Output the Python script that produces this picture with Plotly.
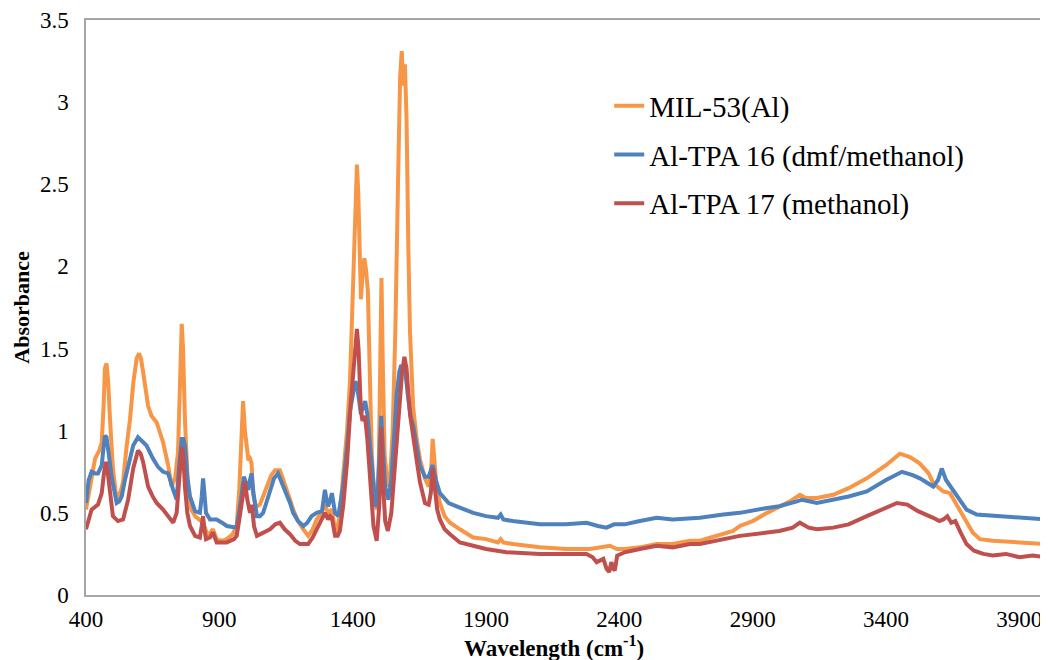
import plotly.graph_objects as go

mil53_x = [400,410,421,434,450,459,466,471,477,483,490,501,512,520,530,539,552,565,578,590,599,606,614,624,633,646,665,689,708,721,734,745,752,759,764,771,783,795,809,825,839,848,857,876,890,910,928,950,965,975,981,989,996,1003,1009,1015,1021,1026,1035,1041,1052,1064,1080,1095,1109,1127,1140,1154,1165,1177,1195,1215,1233,1250,1265,1282,1296,1308,1322,1332,1341,1352,1364,1379,1390,1401,1410,1416,1421,1426,1431,1437,1444,1450,1457,1465,1472,1482,1490,1498,1503,1508,1513,1520,1532,1540,1550,1560,1570,1578,1584,1590,1596,1602,1609,1615,1627,1640,1652,1671,1685,1694,1700,1706,1715,1727,1745,1765,1790,1802,1852,1900,1945,1955,1965,2000,2102,2200,2290,2340,2365,2390,2420,2477,2540,2600,2665,2702,2790,2827,2852,2900,2954,3000,3040,3077,3100,3141,3202,3260,3328,3400,3452,3490,3527,3560,3577,3600,3615,3640,3665,3690,3703,3725,3752,3800,3900,4000]
mil53_y = [0.52,0.62,0.72,0.83,0.88,0.93,1.15,1.38,1.41,1.30,1.07,0.77,0.62,0.60,0.63,0.69,0.90,1.07,1.30,1.44,1.47,1.44,1.36,1.24,1.15,1.09,1.05,0.93,0.79,0.66,0.71,0.87,1.35,1.65,1.50,1.07,0.63,0.52,0.48,0.46,0.44,0.40,0.36,0.40,0.34,0.33,0.34,0.37,0.42,0.65,0.87,1.18,1.00,0.87,0.82,0.83,0.80,0.62,0.55,0.54,0.55,0.60,0.66,0.73,0.76,0.76,0.70,0.64,0.58,0.52,0.45,0.40,0.36,0.40,0.46,0.50,0.55,0.50,0.52,0.42,0.38,0.50,0.70,1.00,1.30,1.90,2.40,2.62,2.45,2.00,1.80,1.95,2.05,1.98,1.85,1.30,0.85,0.58,0.52,0.80,1.40,1.93,1.40,0.85,0.66,0.70,1.00,1.60,2.50,3.15,3.31,3.10,3.23,2.90,2.10,1.60,1.14,0.95,0.83,0.71,0.66,0.75,0.95,0.85,0.65,0.56,0.48,0.44,0.41,0.40,0.35,0.34,0.32,0.34,0.32,0.31,0.29,0.28,0.28,0.29,0.30,0.28,0.28,0.29,0.31,0.31,0.33,0.33,0.37,0.39,0.42,0.45,0.50,0.54,0.57,0.61,0.59,0.59,0.61,0.65,0.71,0.79,0.86,0.84,0.80,0.74,0.68,0.65,0.63,0.62,0.55,0.47,0.44,0.38,0.34,0.33,0.32,0.31]

tpa16_x = [400,410,421,434,445,459,466,471,477,482,490,496,506,515,525,534,546,558,577,595,610,627,651,670,689,708,727,740,750,759,765,771,780,790,809,827,834,839,844,850,865,890,910,928,965,975,981,992,1000,1009,1015,1021,1028,1034,1041,1052,1064,1076,1090,1105,1120,1135,1154,1165,1177,1195,1215,1230,1246,1265,1285,1292,1296,1302,1308,1316,1322,1328,1334,1346,1355,1364,1379,1390,1401,1410,1416,1424,1431,1440,1447,1455,1465,1475,1485,1492,1500,1507,1513,1522,1534,1545,1555,1565,1575,1582,1590,1598,1608,1618,1627,1640,1652,1671,1685,1700,1712,1727,1760,1790,1820,1852,1900,1945,1955,1965,2000,2102,2200,2277,2320,2352,2380,2420,2477,2540,2600,2665,2702,2790,2852,2954,3000,3066,3085,3141,3202,3260,3328,3400,3460,3500,3527,3550,3577,3595,3609,3625,3652,3680,3702,3740,3827,3900,4000]
tpa16_y = [0.56,0.70,0.75,0.74,0.74,0.79,0.90,0.97,0.96,0.91,0.80,0.72,0.62,0.56,0.57,0.60,0.70,0.79,0.91,0.96,0.94,0.91,0.83,0.78,0.75,0.74,0.64,0.58,0.80,0.95,0.95,0.91,0.72,0.60,0.51,0.50,0.60,0.71,0.62,0.50,0.46,0.46,0.44,0.42,0.41,0.50,0.58,0.72,0.68,0.64,0.70,0.74,0.62,0.54,0.48,0.48,0.50,0.56,0.64,0.71,0.74,0.68,0.61,0.56,0.50,0.45,0.42,0.44,0.48,0.50,0.51,0.60,0.64,0.58,0.54,0.58,0.62,0.56,0.50,0.48,0.56,0.66,0.90,1.12,1.22,1.30,1.28,1.20,1.10,1.15,1.18,1.10,0.90,0.68,0.55,0.54,0.80,1.09,0.90,0.66,0.58,0.70,0.95,1.22,1.36,1.40,1.38,1.35,1.20,1.08,1.03,0.90,0.79,0.72,0.72,0.79,0.70,0.62,0.56,0.54,0.52,0.50,0.48,0.47,0.49,0.46,0.45,0.43,0.43,0.44,0.42,0.41,0.43,0.43,0.45,0.47,0.46,0.47,0.47,0.49,0.50,0.53,0.54,0.57,0.58,0.56,0.58,0.60,0.63,0.70,0.75,0.73,0.71,0.69,0.66,0.70,0.77,0.70,0.64,0.57,0.52,0.49,0.48,0.47,0.46]

tpa17_x = [400,410,421,445,459,468,475,482,490,501,520,539,558,577,595,605,614,633,650,665,689,715,727,740,749,759,765,771,780,790,809,827,834,839,844,850,865,876,890,928,955,965,975,981,996,1005,1015,1022,1030,1041,1064,1090,1110,1127,1145,1165,1185,1202,1233,1250,1265,1282,1296,1308,1315,1322,1334,1344,1352,1365,1379,1392,1405,1416,1422,1431,1437,1446,1455,1465,1478,1490,1500,1507,1513,1522,1532,1545,1560,1575,1585,1594,1602,1615,1627,1640,1652,1671,1685,1693,1700,1707,1717,1727,1745,1765,1802,1852,1900,1977,2102,2200,2277,2300,2315,2340,2352,2362,2370,2377,2383,2392,2420,2477,2540,2600,2665,2702,2790,2852,2954,3000,3050,3077,3110,3141,3202,3260,3328,3400,3441,3480,3520,3577,3600,3615,3630,3645,3660,3680,3702,3730,3765,3800,3850,3900,3950,4000]
tpa17_y = [0.40,0.46,0.52,0.55,0.62,0.75,0.81,0.74,0.62,0.48,0.45,0.46,0.58,0.77,0.88,0.86,0.81,0.66,0.60,0.56,0.52,0.46,0.44,0.50,0.72,0.90,0.85,0.66,0.50,0.42,0.36,0.35,0.42,0.48,0.40,0.34,0.35,0.38,0.32,0.32,0.34,0.36,0.46,0.54,0.69,0.58,0.50,0.55,0.42,0.36,0.38,0.40,0.43,0.44,0.40,0.37,0.33,0.31,0.31,0.35,0.40,0.45,0.50,0.46,0.48,0.47,0.36,0.36,0.39,0.55,0.81,1.15,1.45,1.62,1.50,1.12,1.06,1.09,0.95,0.70,0.42,0.33,0.55,1.02,0.70,0.45,0.39,0.50,0.80,1.15,1.35,1.45,1.38,1.10,0.95,0.82,0.69,0.56,0.55,0.62,0.77,0.65,0.52,0.46,0.40,0.37,0.32,0.30,0.28,0.26,0.25,0.25,0.25,0.23,0.20,0.22,0.16,0.14,0.20,0.16,0.15,0.24,0.26,0.28,0.30,0.29,0.31,0.31,0.34,0.36,0.38,0.39,0.41,0.44,0.41,0.40,0.41,0.43,0.48,0.53,0.56,0.55,0.51,0.47,0.45,0.46,0.48,0.44,0.45,0.38,0.31,0.27,0.25,0.24,0.25,0.23,0.24,0.23]

series = [
    ("MIL-53(Al)", mil53_x, mil53_y, "#F79646"),
    ("Al-TPA 16 (dmf/methanol)", tpa16_x, tpa16_y, "#4F81BD"),
    ("Al-TPA 17 (methanol)", tpa17_x, tpa17_y, "#C0504D"),
]

FONT = "Liberation Serif"
fig = go.Figure()
for i, (name, xs, ys, col) in enumerate(series):
    fig.add_trace(go.Scatter(x=xs, y=ys, mode="lines", name=name,
                             legendgroup=f"g{i}",
                             line=dict(color=col, width=4)))

fig.add_annotation(text="<b>Wavelength (cm<sup>-1</sup>)</b>",
                   xref="paper", yref="paper", x=0.487, y=-0.09,
                   xanchor="center", yanchor="middle", showarrow=False,
                   font=dict(family=FONT, size=23, color="black"))

fig.update_layout(
    width=1040, height=652,
    margin=dict(l=78, r=2, t=12, b=65),
    paper_bgcolor="white", plot_bgcolor="white",
    font=dict(family=FONT, size=22, color="black"),
    showlegend=True,
    legend=dict(x=0.545, y=0.895, xanchor="left", yanchor="top",
                font=dict(family=FONT, size=29, color="black"),
                tracegroupgap=8, bgcolor="rgba(0,0,0,0)"),
    xaxis=dict(range=[400, 4000], tick0=400, dtick=500, showgrid=False,
               zeroline=False, showline=True, mirror=True,
               linecolor="#A6A6A6", linewidth=1.5, ticks="",
               automargin=False, ticklabelstandoff=3,
               tickfont=dict(family=FONT, size=23)),
    yaxis=dict(range=[0, 3.5], dtick=0.5, showgrid=False,
               zeroline=False, showline=True, mirror=True,
               linecolor="#A6A6A6", linewidth=1.5, ticks="",
               automargin=False, ticklabelstandoff=11,
               tickfont=dict(family=FONT, size=23),
               title=dict(text="<b>Absorbance</b>",
                          font=dict(family=FONT, size=22), standoff=4)),
)

fig.write_html("out.html")
